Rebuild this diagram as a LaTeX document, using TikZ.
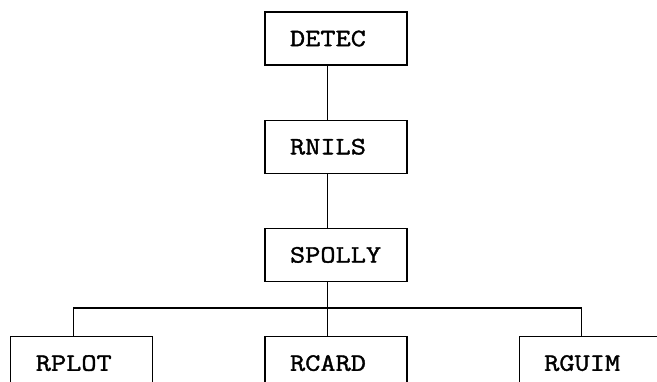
\documentclass[tikz,border=0pt]{standalone}
\usepackage{fontspec}
\setmonofont[FakeStretch=1.18, FakeBold=1.5]{Latin Modern Mono}
\usetikzlibrary{positioning}
\tikzset{
  blk/.style={draw, line width=1.2pt, minimum width=142pt, minimum height=53pt,
    inner xsep=25pt, inner ysep=0pt, text width=92pt, align=left,
    text height=15.3pt, text depth=0pt,
    font=\ttfamily\fontsize{25}{29}\selectfont},
  link/.style={line width=1.2pt},
}
\begin{document}
\begin{tikzpicture}[x=1pt, y=-1pt, node distance=54pt and 111pt]
    \clip (0,0) rectangle (657,381);
    \node[blk] (detec) at (336,38.5) {DETEC};
    \node[blk, below=of detec] (rnils) {RNILS};
    \node[blk, below=of rnils] (spolly) {SPOLLY};
    \node[blk, below=of spolly] (rcard) {RCARD};
    \node[blk, left=of rcard] (rplot) {RPLOT};
    \node[blk, right=of rcard] (rguim) {RGUIM};
    % call lines
    \draw[link] ([xshift=63pt]detec.south west) -- ([xshift=63pt]rnils.north west);
    \draw[link] ([xshift=63pt]rnils.south west) -- ([xshift=63pt]spolly.north west);
    \draw[link] ([xshift=63pt]spolly.south west) -- ([xshift=63pt]rcard.north west);
    \draw[link] ([xshift=63pt]rplot.north west) -- ++(0,-28) -| ([xshift=63pt]rguim.north west);
\end{tikzpicture}
\end{document}
